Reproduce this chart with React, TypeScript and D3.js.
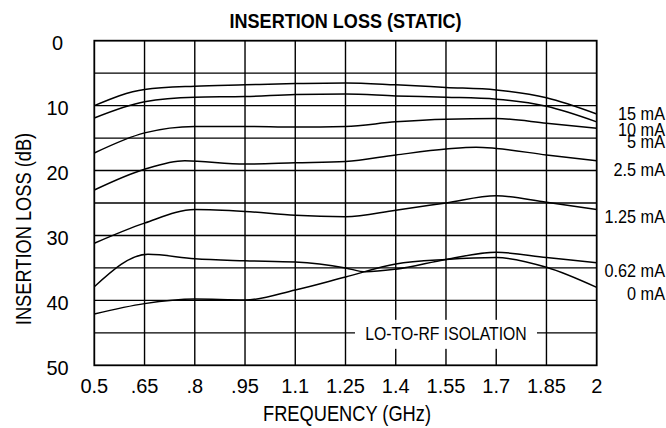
import React, { useRef, useEffect } from "react";
import * as d3 from "d3";

// frequency ticks (GHz) and loss ticks (dB)
const freqTicks = [0.5, 0.65, 0.8, 0.95, 1.1, 1.25, 1.4, 1.55, 1.7, 1.85, 2.0];
const freqTickLabels = ["0.5", ".65", ".8", ".95", "1.1", "1.25", "1.4", "1.55", "1.7", "1.85", "2"];
const lossTicks = [0, 10, 20, 30, 40, 50];
const lossGrid = [5, 10, 15, 20, 25, 30, 35, 40, 45];

// [freq GHz, insertion loss dB]
const loss15mA: [number, number][] = [
  [0.5, 10.0], [0.65, 7.5], [0.8, 7.0], [0.95, 6.8], [1.1, 6.6], [1.25, 6.5],
  [1.4, 6.8], [1.55, 7.2], [1.7, 7.6], [1.85, 8.8], [2.0, 11.3],
];
const loss10mA: [number, number][] = [
  [0.5, 11.9], [0.65, 9.4], [0.8, 8.7], [0.95, 8.6], [1.1, 8.3], [1.25, 8.2],
  [1.4, 8.5], [1.55, 8.7], [1.7, 9.0], [1.85, 10.1], [2.0, 12.5],
];
const loss5mA: [number, number][] = [
  [0.5, 17.3], [0.65, 14.2], [0.8, 13.2], [0.95, 13.2], [1.1, 13.3], [1.25, 13.2],
  [1.4, 12.5], [1.55, 12.1], [1.7, 12.0], [1.85, 12.7], [2.0, 13.5],
];
const loss2p5mA: [number, number][] = [
  [0.5, 23.0], [0.65, 19.8], [0.77, 18.5], [0.95, 19.0], [1.1, 18.8], [1.25, 18.6],
  [1.4, 17.6], [1.55, 16.7], [1.64, 16.4], [1.7, 16.6], [1.85, 17.6], [2.0, 18.5],
];
const loss1p25mA: [number, number][] = [
  [0.5, 31.2], [0.65, 28.1], [0.8, 26.0], [0.95, 26.3], [1.1, 26.9], [1.25, 27.1],
  [1.4, 26.1], [1.55, 25.0], [1.7, 23.9], [1.85, 24.9], [2.0, 26.0],
];
const loss0p62mA: [number, number][] = [
  [0.5, 37.9], [0.66, 32.9], [0.8, 33.6], [0.95, 33.9], [1.1, 34.1], [1.25, 35.0],
  [1.31, 35.6], [1.4, 35.2], [1.55, 33.7], [1.7, 32.6], [1.85, 33.4], [2.0, 34.2],
];
const loss0mA: [number, number][] = [
  [0.5, 42.1], [0.65, 40.5], [0.8, 39.8], [0.95, 39.95], [1.1, 38.4], [1.25, 36.4],
  [1.4, 34.4], [1.55, 33.7], [1.7, 33.4], [1.85, 34.9], [2.0, 38.0],
];

const seriesList = [loss15mA, loss10mA, loss5mA, loss2p5mA, loss1p25mA, loss0p62mA, loss0mA];
const seriesNames = ["15 mA", "10 mA", "5 mA", "2.5 mA", "1.25 mA", "0.62 mA", "0 mA"];
// where each name sits on the loss axis (dB)
const nameLoss = [11.3, 13.8, 15.5, 19.85, 27.2, 35.4, 39.0];

const W = 666;
const H = 428;
// no condensed face installed, so squeeze the regular one for the words
const FONT = "'Liberation Sans', Arial, sans-serif";

function App() {
  const svgRef = useRef<SVGSVGElement>(null);

  useEffect(() => {
    document.body.style.margin = "0";
    const svg = d3.select(svgRef.current);
    svg.selectAll("*").remove();

    const left = 94.3, right = 596.7, top = 40.7, bottom = 365.3;
    const x = d3.scaleLinear().domain([0.5, 2.0]).range([left, right]);
    const y = d3.scaleLinear().domain([0, 50]).range([top, bottom]);

    const g = svg.append("g");

    // places a text at (tx, ty), optionally squeezed sideways
    const label = (sel: any, tx: number, ty: number, size: number, anchor: string, txt: string,
                   sx = 0.83, bold = false, rot = 0) =>
      sel
        .append("text")
        .attr("transform", `translate(${tx},${ty}) rotate(${rot}) scale(${sx},1)`)
        .attr("text-anchor", anchor)
        .style("font", `${bold ? "bold " : ""}${size}px ${FONT}`)
        .text(txt);

    // grid
    g.selectAll(".hgrid")
      .data(lossGrid)
      .join("line")
      .attr("x1", left).attr("x2", right)
      .attr("y1", (d) => y(d)).attr("y2", (d) => y(d))
      .attr("stroke", "#000").attr("stroke-width", 1.4);
    g.selectAll(".vgrid")
      .data(freqTicks.slice(1, -1))
      .join("line")
      .attr("x1", (d) => x(d)).attr("x2", (d) => x(d))
      .attr("y1", top).attr("y2", bottom)
      .attr("stroke", "#000").attr("stroke-width", 1.4);

    // frame
    g.append("rect")
      .attr("x", left).attr("y", top)
      .attr("width", right - left).attr("height", bottom - top)
      .attr("fill", "none").attr("stroke", "#000").attr("stroke-width", 1.8);

    // isolation note punches a hole in the grid
    const isoX = x(1.55);
    const isoY = y(45);
    g.append("rect")
      .attr("x", isoX - 91).attr("y", isoY - 13)
      .attr("width", 182).attr("height", 29)
      .attr("fill", "#fff");
    label(g, isoX, isoY + 7, 19, "middle", "LO-TO-RF ISOLATION");

    // curves
    const line = d3
      .line<[number, number]>()
      .x((d) => x(d[0]))
      .y((d) => y(d[1]))
      .curve(d3.curveMonotoneX);
    g.selectAll(".curve")
      .data(seriesList)
      .join("path")
      .attr("d", (d) => line(d))
      .attr("fill", "none")
      .attr("stroke", "#000")
      .attr("stroke-width", 1.5);

    // series names on the right
    seriesNames.forEach((name, i) => label(g, 665, y(nameLoss[i]) + 6.2, 17.5, "end", name, 0.93));

    // tick labels
    lossTicks.forEach((d) => label(g, 57.5, y(d) + 9.5, 21, "middle", String(d), 0.95));
    freqTicks.forEach((d, i) => label(g, x(d), 393, 20, "middle", freqTickLabels[i], 1));

    // titles
    label(g, (left + right) / 2, 28, 21, "middle", "INSERTION LOSS (STATIC)", 0.86, true);
    label(g, 347, 421, 22, "middle", "FREQUENCY (GHz)");
    label(g, 31, 229, 22, "middle", "INSERTION LOSS (dB)", 0.83, false, -90);
  }, []);

  return <svg ref={svgRef} width={W} height={H} style={{ display: "block", background: "#fff" }}></svg>;
}

export default App;
